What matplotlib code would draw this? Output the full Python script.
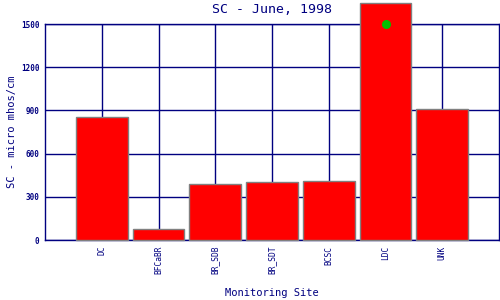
import matplotlib
matplotlib.use('Agg')
import matplotlib.pyplot as plt
import numpy as np

sites = ['DC', 'BFCaBR', 'BR_SDB', 'BR_SDT', 'BCSC', 'LDC', 'UNK']
sc_values = [857, 74, 392, 406, 413, 1646, 909]
marker_site = 'LDC'
marker_value = 1500
y_ticks = [0, 300, 600, 900, 1200, 1500]

navy = '#000080'
plt.rcParams['font.family'] = 'DejaVu Sans Mono'

fig = plt.figure(figsize=(5, 3), dpi=100)
ax = fig.add_axes([0.09, 0.2, 0.908, 0.72])

x = np.arange(1, len(sites) + 1)
ax.bar(x, sc_values, width=0.915, color='red', edgecolor='gray',
       linewidth=1.0, zorder=3, clip_on=False)
mx = x[sites.index(marker_site)]
ax.plot([mx], [marker_value], marker='o', markersize=5.5, color='#00c000',
        zorder=4, clip_on=False)

ax.set_xlim(0, len(sites) + 1)
ax.set_ylim(0, 1500)
ax.set_yticks(y_ticks)
ax.set_yticklabels([str(v) for v in y_ticks], fontsize=5.5, color=navy,
                   fontweight='bold')
ax.set_xticks(x)
ax.set_xticklabels(sites, rotation=90, fontsize=5.7, color=navy)
ax.tick_params(length=0, pad=4)

ax.grid(True, color=navy, linewidth=1.0, zorder=0)
for s in ax.spines.values():
    s.set_color(navy)
    s.set_linewidth(1.0)

ax.set_title('SC - June, 1998', fontsize=9.5, color=navy, pad=8)
ax.set_xlabel('Monitoring Site', fontsize=7.5, color=navy, labelpad=10)
ax.set_ylabel('SC - micro mhos/cm', fontsize=7.5, color=navy, labelpad=3)

fig.savefig('out.png', dpi=100)
